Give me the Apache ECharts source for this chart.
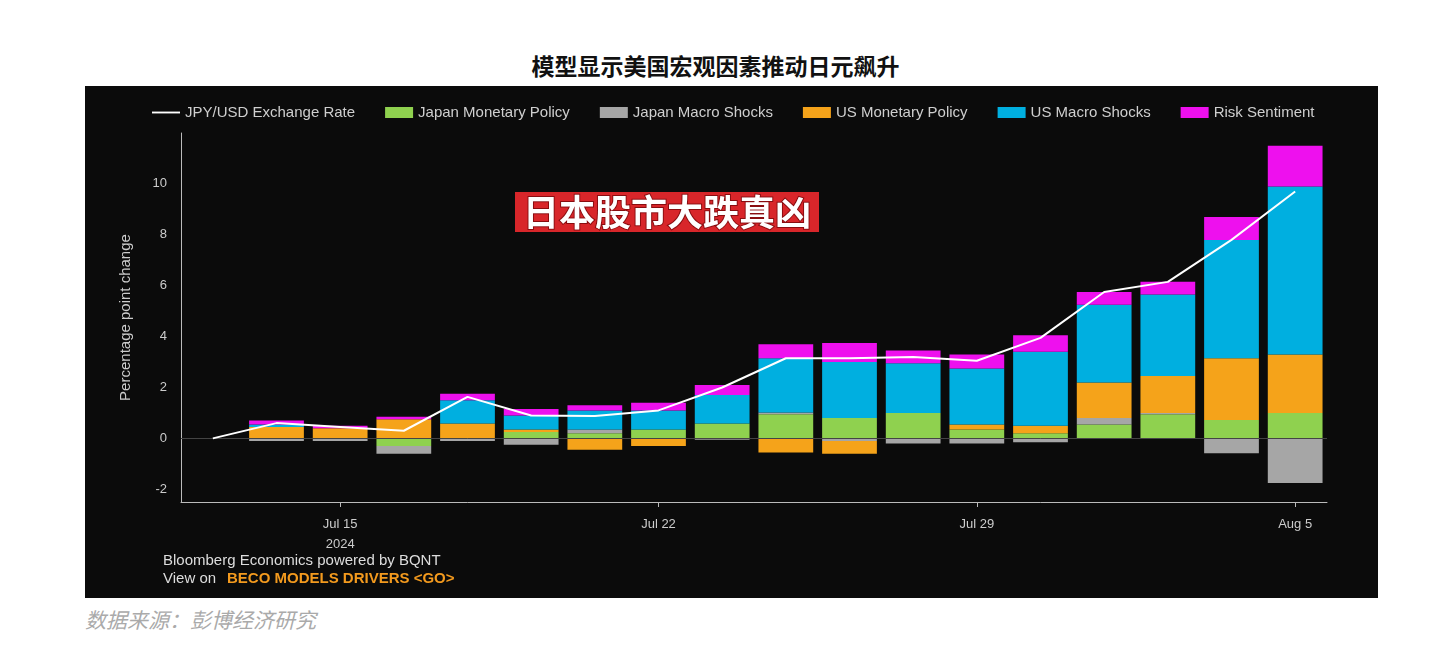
<!DOCTYPE html>
<html>
<head>
<meta charset="utf-8">
<title>模型显示美国宏观因素推动日元飙升</title>
<script src="https://cdn.jsdelivr.net/npm/echarts@6/dist/echarts.min.js"></script>
<style>
body{margin:0;background:#fff;font-family:"Noto Sans CJK SC","Noto Sans",sans-serif;}
#wrap{position:relative;width:1431px;height:667px;}
#title{position:absolute;left:0;width:1431px;top:48px;text-align:center;font-size:23px;font-weight:bold;color:#111;}
#panel{position:absolute;left:85px;top:86px;width:1293px;height:512px;background:#0b0b0b;}
#main{width:1293px;height:512px;}
#src{position:absolute;left:85px;top:604px;font-size:21px;font-style:italic;color:#aaa;}
</style>
</head>
<body>
<div id="wrap">
  <div id="title">模型显示美国宏观因素推动日元飙升</div>
  <div id="panel"><div id="main"></div></div>
  <div id="src">数据来源：彭博经济研究</div>
</div>
<script type="text/javascript">
// --- 数据 ---
var days = ['Jul 11','Jul 12','Jul 15','Jul 16','Jul 17','Jul 18','Jul 19','Jul 22','Jul 23','Jul 24','Jul 25','Jul 26','Jul 29','Jul 30','Jul 31','Aug 1','Aug 2','Aug 5'];
var fx      = [0, 0.6, 0.45, 0.3, 1.63, 0.9, 0.88, 1.1, 2.0, 3.15, 3.15, 3.2, 3.05, 3.95, 5.75, 6.15, 7.8, 9.7];
var jpMon   = [null, 0, 0, -0.3, 0, 0.25, 0.2, 0.35, 0.58, 0.95, 0.8, 1.0, 0.35, 0.2, 0.55, 0.95, 0.72, 1.0];
var jpMacro = [null, -0.1, -0.1, -0.3, -0.1, -0.25, 0.15, 0, -0.05, 0.07, -0.1, -0.2, -0.2, -0.15, 0.25, 0.05, -0.58, -1.75];
var usMon   = [null, 0.45, 0.4, 0.75, 0.58, 0.1, -0.45, -0.3, 0, -0.55, -0.5, 0, 0.2, 0.3, 1.4, 1.45, 2.43, 2.3];
var usMacro = [null, 0.1, 0, 0, 0.92, 0.55, 0.75, 0.75, 1.12, 2.13, 2.2, 1.95, 2.2, 2.9, 3.05, 3.2, 4.65, 6.6];
var risk    = [null, 0.15, 0.1, 0.1, 0.25, 0.25, 0.2, 0.3, 0.4, 0.55, 0.75, 0.5, 0.55, 0.65, 0.5, 0.5, 0.9, 1.6];
var tickDays = ['Jul 15','Jul 22','Jul 29','Aug 5'];

var chart = echarts.init(document.getElementById('main'));
function bar(name, data, color){
    return {name:name, type:'bar', stack:'t', data:data, barCategoryGap:'14%',
            itemStyle:{color:color}};
}
chart.setOption({
    backgroundColor:'#0b0b0b',
    textStyle:{fontFamily:'Liberation Sans, Arial, sans-serif'},
    legend:{
        top:14, left:62, itemGap:30, itemWidth:28, itemHeight:11,
        textStyle:{color:'#cfcfcf', fontSize:15},
        data:[{name:'JPY/USD Exchange Rate', icon:'path://M0,4L30,4L30,6L0,6Z'},
              {name:'Japan Monetary Policy', icon:'rect'},
              {name:'Japan Macro Shocks', icon:'rect'},
              {name:'US Monetary Policy', icon:'rect'},
              {name:'US Macro Shocks', icon:'rect'},
              {name:'Risk Sentiment', icon:'rect'}]
    },
    grid:{left:96, right:51, top:47, bottom:96},
    xAxis:{
        type:'category', data:days,
        axisLine:{onZero:false, lineStyle:{color:'#bbb'}},
        axisTick:{show:true, alignWithLabel:true, interval:function(i,v){return tickDays.indexOf(v)>=0;}, lineStyle:{color:'#bbb'}},
        axisLabel:{color:'#ccc', fontSize:13, margin:12,
            interval:function(i,v){return tickDays.indexOf(v)>=0;},
            formatter:function(v){return v=='Jul 15' ? v+'\n2024' : v;}, lineHeight:20}
    },
    yAxis:{
        type:'value', min:-2.5, max:12, interval:0.5,
        name:'Percentage point change', nameLocation:'middle', nameGap:48,
        nameTextStyle:{color:'#ccc', fontSize:15},
        axisLine:{show:true, lineStyle:{color:'#bbb'}},
        axisTick:{show:false},
        splitLine:{show:false},
        axisLabel:{color:'#ccc', fontSize:13, margin:14,
            formatter:function(v){return (v%2===0 && v<=10) ? String(v) : '';}}
    },
    series:[
        bar('Japan Monetary Policy', jpMon, '#8fd14f'),
        bar('Japan Macro Shocks', jpMacro, '#a6a6a6'),
        bar('US Monetary Policy', usMon, '#f5a31a'),
        bar('US Macro Shocks', usMacro, '#00afe0'),
        bar('Risk Sentiment', risk, '#ee10ee'),
        {name:'JPY/USD Exchange Rate', type:'line', data:fx, symbol:'none', z:5,
         lineStyle:{color:'#fff', width:2}, itemStyle:{color:'#fff'},
         markLine:{silent:true, symbol:'none', label:{show:false},
            lineStyle:{color:'#444', width:1, type:'solid'}, data:[{yAxis:0}]}}
    ],
    graphic:[
        {type:'text', left:430, top:106, z:10, style:{text:'日本股市大跌真凶', fill:'#fff',
            font:'bold 36px "Noto Sans CJK SC"', backgroundColor:'#d8262a', padding:[2,8],
            stroke:'#8a0d10', lineWidth:2}},
        {type:'text', left:78, top:467, style:{text:'Bloomberg Economics powered by BQNT', fill:'#ddd', font:'15px Liberation Sans'}},
        {type:'text', left:78, top:485, style:{text:'View on', fill:'#ddd', font:'15px Liberation Sans'}},
        {type:'text', left:142, top:485, style:{text:'BECO MODELS DRIVERS <GO>', fill:'#f39a1e', font:'bold 15px Liberation Sans'}}
    ]
});
</script>
</body>
</html>
